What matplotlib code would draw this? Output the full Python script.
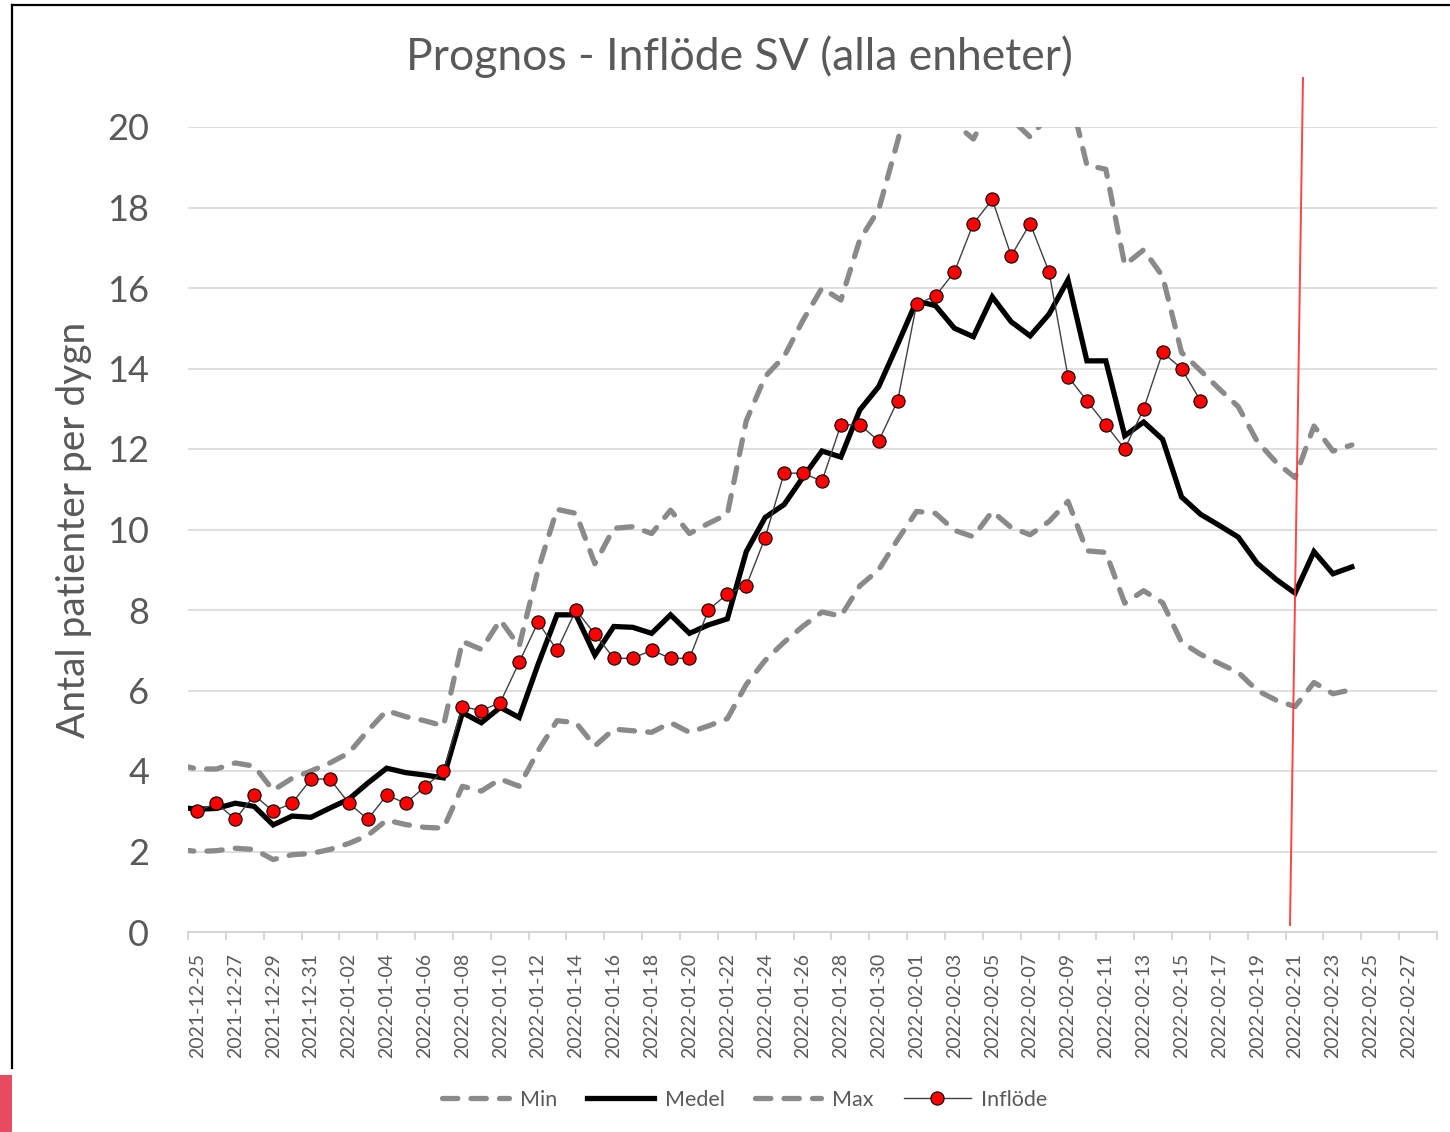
import matplotlib
matplotlib.use("Agg")
import matplotlib.pyplot as plt
import matplotlib.dates as mdates
from matplotlib.lines import Line2D
from matplotlib.patches import Rectangle
import pandas as pd

# model series start one day before the axis (clipped at the left edge)
model_dates = pd.date_range("2021-12-24", periods=63, freq="D")
inflow_dates = pd.date_range("2021-12-25", periods=54, freq="D")

min_vals = [2.05, 2.0, 2.02, 2.08, 2.05, 1.8, 1.92, 1.95, 2.05, 2.2,
            2.4, 2.78, 2.67, 2.6, 2.58, 3.62, 3.5, 3.8, 3.62, 4.5,
            5.25, 5.2, 4.62, 5.04, 5.0, 4.96, 5.2, 4.96, 5.12, 5.3,
            6.15, 6.75, 7.2, 7.6, 7.95, 7.85, 8.6, 9.0, 9.75, 10.45,
            10.4, 9.98, 9.82, 10.45, 10.05, 9.87, 10.2, 10.7, 9.47, 9.43,
            8.17, 8.48, 8.18, 7.2, 6.9, 6.67, 6.45, 6.0, 5.76, 5.6,
            6.2, 5.92, 6.02]

medel_vals = [3.1, 3.05, 3.07, 3.2, 3.12, 2.66, 2.88, 2.85, 3.08, 3.3,
              3.7, 4.07, 3.96, 3.9, 3.83, 5.45, 5.2, 5.58, 5.33, 6.65,
              7.88, 7.88, 6.88, 7.59, 7.57, 7.42, 7.88, 7.42, 7.63, 7.78,
              9.45, 10.3, 10.62, 11.3, 11.95, 11.8, 12.97, 13.55, 14.6, 15.68,
              15.56, 15.0, 14.79, 15.78, 15.16, 14.81, 15.35, 16.2, 14.19, 14.19,
              12.33, 12.67, 12.24, 10.81, 10.38, 10.1, 9.81, 9.16, 8.76, 8.42,
              9.45, 8.9, 9.07]

max_vals = [4.15, 4.05, 4.05, 4.2, 4.12, 3.52, 3.82, 4.0, 4.2, 4.45,
            5.0, 5.5, 5.35, 5.25, 5.12, 7.22, 7.02, 7.75, 7.1, 9.0,
            10.5, 10.4, 9.15, 10.03, 10.07, 9.9, 10.48, 9.9, 10.15, 10.38,
            12.7, 13.8, 14.3, 15.2, 16.0, 15.7, 17.2, 17.95, 19.65, 21.5,
            21.0, 20.1, 19.7, 20.6, 20.2, 19.75, 20.3, 21.0, 19.05, 18.95,
            16.57, 16.95, 16.29, 14.4, 13.95, 13.49, 13.05, 12.19, 11.67, 11.29,
            12.57, 11.95, 12.1]

inflow_vals = [3.0, 3.2, 2.8, 3.4, 3.0, 3.2, 3.8, 3.8, 3.2, 2.8,
               3.4, 3.2, 3.6, 4.0, 5.6, 5.5, 5.7, 6.7, 7.7, 7.0,
               8.0, 7.4, 6.8, 6.8, 7.0, 6.8, 6.8, 8.0, 8.4, 8.6,
               9.8, 11.4, 11.4, 11.2, 12.6, 12.6, 12.2, 13.2, 15.6, 15.8,
               16.4, 17.6, 18.2, 16.8, 17.6, 16.4, 13.8, 13.2, 12.6, 12.0,
               13.0, 14.4, 14.0, 13.2]

label_dates = pd.date_range("2021-12-25", "2022-02-27", freq="2D")
y_ticks = list(range(0, 21, 2))

title = "Prognos - Inflöde SV (alla enheter)"
ylabel = "Antal patienter per dygn"

txt = "#595959"
grey = "#8a8a8a"
W, H = 1450, 1132

plt.rcParams["font.family"] = ["Lato", "DejaVu Sans"]

fig = plt.figure(figsize=(W / 100, H / 100), dpi=100)
ax = fig.add_axes([188 / W, 1 - 932 / H, (1437 - 188) / W, (932 - 127) / H])

dash = (2.9, 2.5)
ax.plot(model_dates, min_vals, color=grey, lw=3.8, ls=(0, dash),
        dash_capstyle="round", label="Min", zorder=3)
ax.plot(model_dates, medel_vals, color="black", lw=3.8,
        solid_joinstyle="miter", label="Medel", zorder=4)
ax.plot(model_dates, max_vals, color=grey, lw=3.8, ls=(0, dash),
        dash_capstyle="round", label="Max", zorder=5)
ax.plot(inflow_dates, inflow_vals, color="#404040", lw=1.0, marker="o",
        ms=9.5, mfc="#ff0000", mec="black", mew=0.8, label="Inflöde", zorder=6)

half = pd.Timedelta(hours=12)
ax.set_xlim(pd.Timestamp("2021-12-25") - half, pd.Timestamp("2022-02-28") + half)
ax.set_ylim(0, 20)

ax.set_xticks(label_dates)
ax.xaxis.set_major_formatter(mdates.DateFormatter("%Y-%m-%d"))
ax.set_xticks(list(label_dates - half) + [pd.Timestamp("2022-02-28") + half], minor=True)
ax.tick_params(axis="x", which="major", length=0, pad=15, labelsize=14,
               labelcolor=txt, labelrotation=90)
ax.tick_params(axis="x", which="minor", length=6, width=1.2, color="#d0d0d0")

ax.set_yticks(y_ticks)
ax.tick_params(axis="y", length=0, pad=28, labelsize=26, labelcolor=txt)

ax.grid(axis="y", color="#d9d9d9", lw=1.2, zorder=0)
ax.set_axisbelow(True)
for s in ["top", "right", "left"]:
    ax.spines[s].set_visible(False)
ax.spines["bottom"].set_color("#d0d0d0")
ax.spines["bottom"].set_linewidth(1.2)

ax.set_ylabel(ylabel, fontsize=28, color=txt)
ax.yaxis.set_label_coords((92 - 188) / 1249, 0.5)

fig.text(739 / W, 1 - 57 / H, title, ha="center", va="center",
         fontsize=32, color=txt)

fig.legend(loc="center", bbox_to_anchor=(745 / W, 1 - 1100 / H), ncol=4,
           frameon=False, fontsize=15.5, handlelength=3.1, handletextpad=0.5,
           columnspacing=1.4, labelcolor=txt)

# hand-drawn red marker line on the original chart
fig.add_artist(Line2D([1303 / W, 1290 / W], [1 - 78 / H, 1 - 925 / H],
                      color="#ff3030", lw=1.4, alpha=0.9))

# screenshot frame
fig.add_artist(Line2D([12 / W, 1], [1 - 5 / H, 1 - 5 / H], color="black", lw=1.6))
fig.add_artist(Line2D([12 / W, 12 / W], [1 - 5 / H, 1 - 1068 / H], color="black", lw=1.6))
fig.add_artist(Rectangle((0, 0), 12 / W, 57 / H, transform=fig.transFigure,
                         color="#e84a5f", lw=0))

fig.savefig("out.png", dpi=100)
